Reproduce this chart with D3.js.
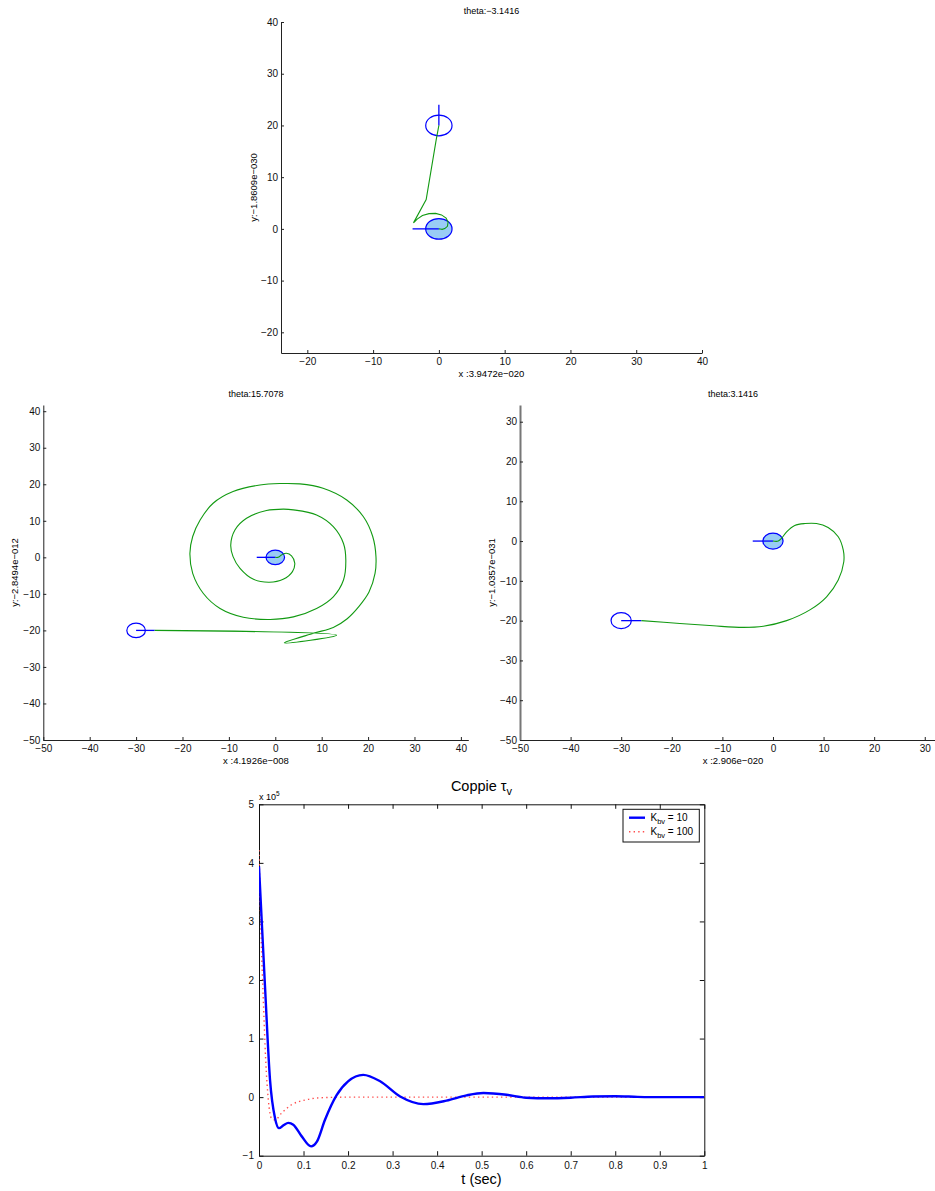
<!DOCTYPE html>
<html><head><meta charset="utf-8">
<script src="https://cdn.jsdelivr.net/npm/d3@7"></script>
<style>
body{margin:0;background:#fff}
text{font-family:"Liberation Sans",Arial,Helvetica,sans-serif;fill:#000}
</style>
</head><body>
<svg id="c" width="935" height="1191"></svg>
<script>
// ---------- DATA ----------
// Panel 1 (top): theta -3.1416
const p1Title = "theta:\u22123.1416";
const p1XLabel = "x :3.9472e\u2212020";
const p1YLabel = "y:\u22121.8609e\u2212030";
const p1XTicks = [-20, -10, 0, 10, 20, 30, 40];
const p1YTicks = [-20, -10, 0, 10, 20, 30, 40];
const p1TrajX = [0, -0.41, -1.93, -3.86, -3.3, -2.5, -1.5, -0.5, 0.4, 1.1, 1.4, 1.3, 0.9, 0.5, 0.2, 0];
const p1TrajY = [20, 17.2, 5.66, 1.16, 1.9, 2.6, 2.95, 3.0, 2.7, 2.1, 1.3, 0.5, 0.05, -0.1, -0.02, 0];
const p1Start = [0, 20], p1StartDir = [0, 24];
const p1Goal = [0, 0], p1GoalDir = [-4, 0];

// Panel 2 (middle left): theta 15.7078
const p2Title = "theta:15.7078";
const p2XLabel = "x :4.1926e\u2212008";
const p2YLabel = "y:\u22122.8494e\u2212012";
const p2XTicks = [-50, -40, -30, -20, -10, 0, 10, 20, 30, 40];
const p2YTicks = [-50, -40, -30, -20, -10, 0, 10, 20, 30, 40];
const p2TrajX = [-26, 13.2, 1.94, 8.2, 12.5, 15.5, 18.0, 20.2, 21.5, 21.7, 21.0, 19.0, 15.4, 10.3, 5.3, 1.0, -3.3, -9.1, -13.4, -16.2, -17.8, -18.4, -17.8, -15.5, -11.9, -6.9, -1.1, 3.9, 8.9, 12.5, 14.7, 15.2, 14.7, 12.5, 8.9, 3.9, 1.7, -1.9, -6.2, -8.7, -9.6, -9.1, -7.6, -4.7, -1.3, 1.7, 3.7, 4.2, 3.5, 2.4, 1.4, 0.6, 0];
const p2TrajY = [-20, -21.3, -23.4, -20.8, -19.2, -16.8, -13.5, -9.5, -4.4, 0.2, 5.7, 11.1, 15.7, 18.9, 20.1, 20.2, 19.8, 18.0, 14.8, 10.2, 5.7, 1.1, -4.4, -9.9, -14.0, -16.4, -17.0, -16.3, -14.0, -10.8, -6.2, -0.7, 3.8, 8.4, 11.6, 13.0, 13.2, 12.8, 10.7, 7.5, 3.4, 0.2, -3.0, -6.0, -6.8, -6.0, -3.9, -1.6, 0.4, 1.1, 0.7, 0, 0];
const p2Start = [-30, -20], p2StartDir = [-26, -20];
const p2Goal = [0, 0], p2GoalDir = [-4, 0];

// Panel 3 (middle right): theta 3.1416
const p3Title = "theta:3.1416";
const p3XLabel = "x :2.906e\u2212020";
const p3YLabel = "y:\u22121.0357e\u2212031";
const p3XTicks = [-50, -40, -30, -20, -10, 0, 10, 20, 30];
const p3YTicks = [-50, -40, -30, -20, -10, 0, 10, 20, 30];
const p3TrajX = [-26, -18.4, -11.8, -5.9, -1.9, 2.7, 7.3, 10.6, 12.9, 14.0, 13.9, 12.9, 10.9, 8.6, 6.3, 4.3, 2.7, 1.7, 1.05, 0];
const p3TrajY = [-20, -20.7, -21.3, -21.7, -21.4, -20.0, -17.3, -14.0, -9.8, -5.2, -2.3, 1.1, 3.4, 4.4, 4.4, 3.9, 2.3, 0.7, 0, 0];
const p3Start = [-30, -20], p3StartDir = [-26, -20];
const p3Goal = [0, 0], p3GoalDir = [-4, 0];

const robotRadius = 2;

// Bottom chart: Coppie tau_v (values x 1e5)
const tK10 = [0, 0.0135, 0.0247, 0.036, 0.045, 0.055, 0.066, 0.077, 0.096, 0.117, 0.13, 0.148, 0.174, 0.2, 0.234, 0.272, 0.317, 0.369, 0.421, 0.466, 0.504, 0.556, 0.6, 0.65, 0.7, 0.75, 0.8, 0.85, 0.9, 1.0];
const vK10 = [3.94, 1.89, 0.30, -0.36, -0.53, -0.48, -0.44, -0.47, -0.67, -0.84, -0.76, -0.39, 0.03, 0.27, 0.38, 0.27, 0.01, -0.12, -0.06, 0.03, 0.07, 0.04, -0.01, -0.02, -0.01, 0.01, 0.015, 0.005, 0, 0];
const tK100 = [0, 0.0045, 0.0097, 0.015, 0.021, 0.028, 0.036, 0.051, 0.073, 0.103, 0.14, 0.2, 0.3, 1.0];
const vK100 = [4.22, 2.8, 1.66, 0.64, -0.05, -0.36, -0.39, -0.27, -0.13, -0.05, -0.01, 0, 0, 0];
const bXTicks = [0, 0.1, 0.2, 0.3, 0.4, 0.5, 0.6, 0.7, 0.8, 0.9, 1];
const bXTickLabels = ["0", "0.1", "0.2", "0.3", "0.4", "0.5", "0.6", "0.7", "0.8", "0.9", "1"];
const bYTicks = [-1, 0, 1, 2, 3, 4, 5];
const legendLabels = [["K", "bv", " = 10"], ["K", "bv", " = 100"]];

// ---------- DRAW ----------
const svg = d3.select("#c");
const minus = d => String(d).replace("-", "\u2212");

function robotPanel(o) {
  const x = d3.scaleLinear().domain(o.xd).range(o.xr);
  const y = d3.scaleLinear().domain(o.yd).range(o.yr);
  const g = svg.append("g");
  const ax = g.append("g").attr("transform", `translate(0,${o.yr[0]})`)
    .call(d3.axisBottom(x).tickValues(o.xt).tickFormat(minus).tickSizeInner(-3).tickSizeOuter(0).tickPadding(5));
  const ay = g.append("g").attr("transform", `translate(${o.xr[0]},0)`)
    .call(d3.axisLeft(y).tickValues(o.yt).tickFormat(minus).tickSizeInner(-3).tickSizeOuter(0).tickPadding(3));
  [ax, ay].forEach(a => {
    a.selectAll("text").attr("font-size", 10).attr("font-family", null).style("fill", "#111");
    a.selectAll("line").attr("stroke", "#222");
    a.select(".domain").attr("stroke", "#222");
  });
  if (o.grayLeft) ay.select(".domain").attr("stroke", "#777").attr("stroke-width", 2);
  const rx = x(robotRadius) - x(0), ry = y(0) - y(robotRadius);
  g.append("ellipse").attr("cx", x(o.start[0])).attr("cy", y(o.start[1])).attr("rx", rx).attr("ry", ry)
    .attr("fill", "none").attr("stroke", "#0000ff").attr("stroke-width", 1.2);
  g.append("line").attr("x1", x(o.start[0])).attr("y1", y(o.start[1])).attr("x2", x(o.startDir[0])).attr("y2", y(o.startDir[1]))
    .attr("stroke", "#0000ff").attr("stroke-width", 1.3);
  g.append("ellipse").attr("cx", x(o.goal[0])).attr("cy", y(o.goal[1])).attr("rx", rx).attr("ry", ry)
    .attr("fill", "#99ccf5").attr("stroke", "#0000ff").attr("stroke-width", 1.2);
  g.append("line").attr("x1", x(o.goal[0])).attr("y1", y(o.goal[1])).attr("x2", x(o.goalDir[0])).attr("y2", y(o.goalDir[1]))
    .attr("stroke", "#0000ff").attr("stroke-width", 1.3);
  const pts = o.tx.map((v, i) => [v, o.ty[i]]);
  g.append("path").datum(pts)
    .attr("d", d3.line().x(d => x(d[0])).y(d => y(d[1])).curve(o.curve || d3.curveCatmullRom.alpha(0.5)))
    .attr("fill", "none").attr("stroke", "#129a12").attr("stroke-width", 1.1);
  g.append("text").attr("x", o.titleX).attr("y", o.titleY).attr("text-anchor", "middle").attr("font-size", 9).text(o.title);
  g.append("text").attr("x", o.titleX).attr("y", o.xlabY).attr("text-anchor", "middle").attr("font-size", 9.5).text(o.xlab);
  g.append("text").attr("transform", `translate(${o.ylabX},${(o.yr[0] + o.yr[1]) / 2}) rotate(-90)`)
    .attr("text-anchor", "middle").attr("font-size", 9.5).text(o.ylab);
}

robotPanel({xd: [-24, 40], yd: [-24, 40], xr: [281, 702], yr: [353, 22], xt: p1XTicks, yt: p1YTicks,
  tx: p1TrajX, ty: p1TrajY, start: p1Start, startDir: p1StartDir, goal: p1Goal, goalDir: p1GoalDir,
  title: p1Title, xlab: p1XLabel, ylab: p1YLabel, titleX: 491.5, titleY: 14, xlabY: 377, ylabX: 257, curve: d3.curveLinear});
robotPanel({xd: [-50, 41.6], yd: [-50, 41.7], xr: [43.3, 468.3], yr: [740, 405], xt: p2XTicks, yt: p2YTicks,
  tx: p2TrajX, ty: p2TrajY, start: p2Start, startDir: p2StartDir, goal: p2Goal, goalDir: p2GoalDir,
  title: p2Title, xlab: p2XLabel, ylab: p2YLabel, titleX: 256, titleY: 397, xlabY: 764, ylabX: 18});
robotPanel({xd: [-50, 34.2], yd: [-50, 34.2], xr: [520, 946], yr: [740, 405], xt: p3XTicks, yt: p3YTicks,
  tx: p3TrajX, ty: p3TrajY, start: p3Start, startDir: p3StartDir, goal: p3Goal, goalDir: p3GoalDir,
  title: p3Title, xlab: p3XLabel, ylab: p3YLabel, titleX: 733, titleY: 397, xlabY: 764, ylabX: 495, grayLeft: true});

// ---------- Bottom chart ----------
(function () {
  const L = 259, R = 704.3, T = 804.3, B = 1155.7;
  const x = d3.scaleLinear().domain([0, 1]).range([L, R]);
  const y = d3.scaleLinear().domain([-1, 5]).range([B, T]);
  const g = svg.append("g");
  const fmt = (d, i) => bXTickLabels[i];
  const axB = g.append("g").attr("transform", `translate(0,${B})`)
    .call(d3.axisBottom(x).tickValues(bXTicks).tickFormat(fmt).tickSizeInner(-4.5).tickSizeOuter(0).tickPadding(6));
  const axT = g.append("g").attr("transform", `translate(0,${T})`)
    .call(d3.axisTop(x).tickValues(bXTicks).tickFormat("").tickSizeInner(-4.5).tickSizeOuter(0));
  const axL = g.append("g").attr("transform", `translate(${L},0)`)
    .call(d3.axisLeft(y).tickValues(bYTicks).tickFormat(minus).tickSizeInner(-4.5).tickSizeOuter(0).tickPadding(5));
  const axR = g.append("g").attr("transform", `translate(${R},0)`)
    .call(d3.axisRight(y).tickValues(bYTicks).tickFormat("").tickSizeInner(-4.5).tickSizeOuter(0));
  [axB, axT, axL, axR].forEach(a => {
    a.selectAll("text").attr("font-size", 10).attr("font-family", null).style("fill", "#111");
    a.selectAll("line").attr("stroke", "#111");
    a.select(".domain").attr("stroke", "#111");
  });
  const clipId = "clipB";
  svg.append("clipPath").attr("id", clipId).append("rect").attr("x", L).attr("y", T).attr("width", R - L).attr("height", B - T);
  const line = d3.line().x(d => x(d[0])).y(d => y(d[1])).curve(d3.curveMonotoneX);
  g.append("path").datum(tK100.map((t, i) => [t, vK100[i]])).attr("d", line).attr("clip-path", `url(#${clipId})`)
    .attr("fill", "none").attr("stroke", "#ff4d4d").attr("stroke-width", 1.4).attr("stroke-dasharray", "1.4,3.2");
  g.append("path").datum(tK10.map((t, i) => [t, vK10[i]])).attr("d", line).attr("clip-path", `url(#${clipId})`)
    .attr("fill", "none").attr("stroke", "#0000ff").attr("stroke-width", 2.4);
  const tt = g.append("text").attr("x", 481.5).attr("y", 791).attr("text-anchor", "middle").attr("font-size", 14.5);
  tt.append("tspan").text("Coppie \u03c4");
  tt.append("tspan").attr("font-size", 11).attr("dy", 4).text("v");
  const ex = g.append("text").attr("x", 259).attr("y", 800).attr("font-size", 9);
  ex.append("tspan").text("x 10");
  ex.append("tspan").attr("font-size", 6.5).attr("dy", -4).text("5");
  g.append("text").attr("x", 481.5).attr("y", 1184).attr("text-anchor", "middle").attr("font-size", 14.5).text("t (sec)");
  const lg = g.append("g");
  lg.append("rect").attr("x", 623).attr("y", 809.3).attr("width", 76.3).attr("height", 32.7)
    .attr("fill", "#fff").attr("stroke", "#111").attr("stroke-width", 1);
  const rows = [{c: "#0000ff", w: 2.4, dash: null}, {c: "#ff4d4d", w: 1.4, dash: "1.4,3.2"}];
  rows.forEach((r, i) => {
    const yy = 817.7 + i * 14;
    lg.append("line").attr("x1", 629).attr("x2", 645).attr("y1", yy).attr("y2", yy)
      .attr("stroke", r.c).attr("stroke-width", r.w).attr("stroke-dasharray", r.dash);
    const t = lg.append("text").attr("x", 650.5).attr("y", yy + 3.5).attr("font-size", 10);
    t.append("tspan").text(legendLabels[i][0]);
    t.append("tspan").attr("font-size", 7.5).attr("dy", 3).text(legendLabels[i][1]);
    t.append("tspan").attr("dy", -3).text(legendLabels[i][2]);
  });
})();
</script>
</body></html>
